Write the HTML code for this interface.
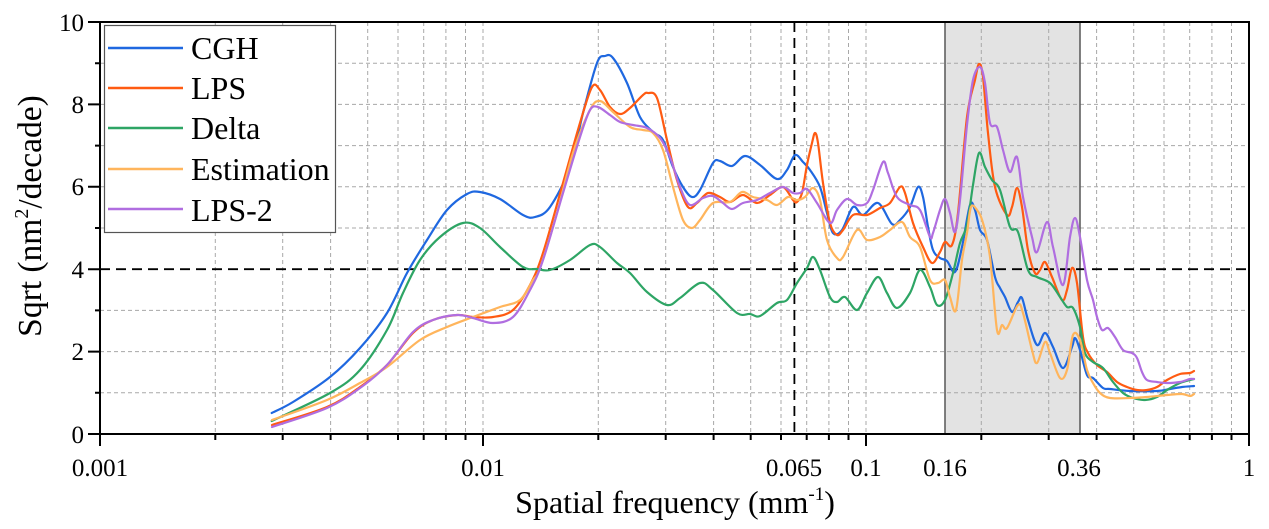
<!DOCTYPE html>
<html>
<head>
<meta charset="utf-8">
<style>
  html,body{margin:0;padding:0;background:#fff;}
  svg{display:block;}
  text{font-family:"Liberation Serif","Times New Roman",serif;fill:#000;}
</style>
</head>
<body>
<svg id="chart" width="1269" height="529" viewBox="0 0 1269 529" xmlns="http://www.w3.org/2000/svg">
  <rect x="0" y="0" width="1269" height="529" fill="#fff"/>
  <!-- shaded band -->
  <rect x="945" y="22" width="135" height="412" fill="#e3e3e3"/>
  <!-- grid -->
  <g stroke="#a8a8a8" stroke-width="1" stroke-dasharray="4,3" fill="none">
    <path d="M215.3 22V434M282.7 22V434M330.6 22V434M367.7 22V434M398 22V434M423.7 22V434M445.9 22V434M465.5 22V434M483 22V434
             M598.3 22V434M665.7 22V434M713.6 22V434M750.7 22V434M781 22V434M806.7 22V434M828.9 22V434M848.5 22V434M866 22V434
             M981.3 22V434M1048.7 22V434M1096.6 22V434M1133.7 22V434M1164 22V434M1189.7 22V434M1211.9 22V434M1231.5 22V434"/>
    <path d="M100 392.8H1249M100 351.6H1249M100 310.4H1249M100 228H1249M100 186.8H1249M100 145.6H1249M100 104.4H1249M100 63.2H1249"/>
  </g>
  <!-- band edges -->
  <path d="M945 22V434M1080 22V434" stroke="#606060" stroke-width="1.6" fill="none"/>
  <!-- black dashed reference lines -->
  <path d="M100 269.2H1249" stroke="#000" stroke-width="1.8" stroke-dasharray="10,6" fill="none"/>
  <path d="M794.4 22V434" stroke="#000" stroke-width="1.8" stroke-dasharray="10,6" fill="none"/>

  <!-- data -->
  <g fill="none" stroke-width="2.2" stroke-linejoin="round" stroke-linecap="round">
    <polyline class="s" stroke="#1f68e0" points="271.7,413 293,402 330,377 360,348 387,313 407,273 427,240 447,210 467,194 480,192 500,199 523,215 535,217 550,207 570,167 583,113 597,63 605,56 613,58 627,83 640,117 653,132 663,140 673,167 683,187 692,197 700,190 713,163 720,161 732,166 745,156 760,165 777,179 787,170 795,155 803,162 810,170 820,187 827,213 833,233 842,230 853,207 863,215 878,203 892,224 900,220 910,207 918,187 923,197 928,227 933,250 940,258 947,261 955,272 962,247 970,205 975,210 980,230 987,240 995,277 1000,288 1005,297 1012,312 1018,302 1022,298 1028,320 1037,345 1045,333 1053,347 1063,368 1072,347 1075,338 1080,350 1087,375 1093,378 1103,388 1110,389 1130,391 1157,391 1170,389 1182,387 1194,386"/>
    <polyline class="s" stroke="#ff5b12" points="272,425 327,407 360,387 387,365 413,333 433,320 457,315 473,317 493,317 513,310 530,285 543,253 563,183 580,123 592,87 600,90 610,107 620,114 630,108 643,95 648,93 657,98 667,140 677,180 688,207 697,203 708,193 720,197 730,202 743,195 757,203 770,195 783,187 793,200 797,202 802,193 807,165 812,143 815,133 818,143 823,183 830,223 837,235 843,230 853,215 867,215 880,208 890,203 900,187 905,193 913,223 923,247 932,263 940,252 945,242 952,245 958,213 967,117 975,80 979,64 983,77 988,133 995,187 1007,215 1012,207 1017,188 1022,207 1028,250 1035,273 1040,270 1045,262 1052,277 1062,300 1067,290 1072,268 1077,283 1083,337 1088,353 1097,365 1107,372 1117,382 1127,387 1137,390 1147,390 1157,387 1167,380 1180,374 1190,373 1194,371"/>
    <polyline class="s" stroke="#2ea565" points="271.7,421 330,393 360,370 387,330 403,293 420,260 440,237 463,223 480,228 500,247 523,267 537,269 550,270 570,260 590,245 600,247 617,263 630,273 647,292 667,305 680,298 700,283 713,290 737,313 750,314 760,316 777,303 787,300 797,283 807,268 813,257 820,270 830,297 837,302 845,297 857,310 867,293 878,277 887,293 897,308 910,293 920,270 930,287 937,305 945,300 953,273 960,243 967,225 973,185 979,153 985,167 992,180 1000,190 1010,227 1018,232 1028,270 1037,277 1050,283 1060,297 1067,307 1073,308 1080,327 1085,353 1093,362 1103,368 1113,382 1123,393 1133,398 1145,400 1157,397 1167,390 1180,383 1190,380 1194,379"/>
    <polyline class="s" stroke="#ffb55c" points="272,420 327,400 360,383 387,367 420,340 447,327 473,317 500,307 520,300 533,280 540,268 557,213 573,153 590,110 600,101 613,112 630,127 643,130 653,133 663,150 673,187 683,220 692,228 700,220 713,203 730,202 742,192 753,197 767,200 777,205 788,197 797,200 805,197 813,188 820,200 827,240 837,258 843,257 857,230 867,240 880,237 890,230 902,222 910,237 920,247 930,280 938,283 945,280 950,297 956,310 962,260 967,233 971,207 977,210 983,223 990,257 997,330 1002,325 1007,328 1018,305 1023,313 1032,350 1037,363 1045,342 1050,353 1060,378 1067,370 1073,335 1080,340 1087,370 1093,383 1100,393 1110,398 1130,398 1147,397 1167,395 1182,394 1190,396 1194,394"/>
    <polyline class="s" stroke="#b06ee0" points="272,427 327,408 360,388 387,365 413,332 433,320 457,315 473,318 493,323 513,317 530,290 543,260 563,193 580,137 590,110 598,107 610,115 620,122 633,125 647,128 660,138 670,157 680,187 690,205 703,198 713,196 723,203 732,209 743,203 757,200 770,193 783,187 793,193 800,193 807,189 817,203 830,223 837,210 847,199 857,205 867,203 873,190 883,162 888,173 897,197 910,205 920,210 930,237 933,233 940,210 945,199 950,213 955,232 960,200 967,125 973,80 980,67 985,83 990,123 997,127 1003,150 1010,172 1017,157 1023,197 1032,237 1037,252 1047,222 1053,247 1063,285 1070,237 1075,218 1080,237 1087,280 1093,300 1097,317 1102,330 1108,328 1115,337 1123,350 1132,353 1137,358 1142,372 1147,380 1157,382 1167,383 1180,382 1190,379 1194,379"/>
  </g>

  <!-- axes frame -->
  <rect x="100" y="22" width="1149" height="412" fill="none" stroke="#000" stroke-width="2"/>
  <!-- ticks -->
  <g stroke="#000" stroke-width="2">
    <path d="M88 434H100M88 351.6H100M88 269.2H100M88 186.8H100M88 104.4H100M88 22H100"/>
    <path d="M95 392.8H100M95 310.4H100M95 228H100M95 145.6H100M95 63.2H100"/>
    <path d="M100 434V446M483 434V446M866 434V446M1249 434V446"/>
    <path d="M215.3 434V440M282.7 434V440M330.6 434V440M367.7 434V440M398 434V440M423.7 434V440M445.9 434V440M465.5 434V440
             M598.3 434V440M665.7 434V440M713.6 434V440M750.7 434V440M781 434V440M806.7 434V440M828.9 434V440M848.5 434V440
             M981.3 434V440M1048.7 434V440M1096.6 434V440M1133.7 434V440M1164 434V440M1189.7 434V440M1211.9 434V440M1231.5 434V440"/>
  </g>

  <!-- y tick labels -->
  <g font-size="25" text-anchor="end">
    <text x="84" y="443">0</text>
    <text x="84" y="360">2</text>
    <text x="84" y="278">4</text>
    <text x="84" y="195">6</text>
    <text x="84" y="113">8</text>
    <text x="84" y="31">10</text>
  </g>
  <!-- x tick labels -->
  <g font-size="25" text-anchor="middle">
    <text x="100" y="476">0.001</text>
    <text x="483" y="476">0.01</text>
    <text x="794" y="476">0.065</text>
    <text x="866" y="476">0.1</text>
    <text x="945" y="476">0.16</text>
    <text x="1079" y="476">0.36</text>
    <text x="1249" y="476">1</text>
  </g>

  <!-- axis titles -->
  <text x="675" y="513" font-size="32" text-anchor="middle">Spatial frequency (mm<tspan font-size="19" dy="-13">-1</tspan><tspan dy="13">)</tspan></text>
  <text transform="translate(41,216) rotate(-90)" font-size="33.5" text-anchor="middle">Sqrt (nm<tspan font-size="20" dy="-13">2</tspan><tspan dy="13">/decade)</tspan></text>

  <!-- legend -->
  <rect x="104.5" y="25.5" width="231" height="207" fill="#fff" stroke="#555" stroke-width="1.2"/>
  <g stroke-width="2.5">
    <path d="M108 48H183" stroke="#1f68e0"/>
    <path d="M108 88H183" stroke="#ff5b12"/>
    <path d="M108 128H183" stroke="#2ea565"/>
    <path d="M108 169H183" stroke="#ffb55c"/>
    <path d="M108 209H183" stroke="#b06ee0"/>
  </g>
  <g font-size="32">
    <text x="191" y="59">CGH</text>
    <text x="191" y="99">LPS</text>
    <text x="191" y="139">Delta</text>
    <text x="191" y="180">Estimation</text>
    <text x="191" y="221">LPS-2</text>
  </g>
</svg>
<script>
(function(){
  try{
    var NS="http://www.w3.org/2000/svg";
    var pls=document.querySelectorAll("polyline.s");
    for(var k=0;k<pls.length;k++){
      var pl=pls[k];
      var raw=pl.getAttribute("points").trim().split(/\s+/);
      var p=[];
      for(var i=0;i<raw.length;i++){var a=raw[i].split(",");p.push([+a[0],+a[1]]);}
      var d="M"+p[0][0]+" "+p[0][1];
      for(var i=0;i<p.length-1;i++){
        var p0=p[i-1]||p[i],p1=p[i],p2=p[i+1],p3=p[i+2]||p2;
        var c1x=p1[0]+(p2[0]-p0[0])/6,c1y=p1[1]+(p2[1]-p0[1])/6;
        var c2x=p2[0]-(p3[0]-p1[0])/6,c2y=p2[1]-(p3[1]-p1[1])/6;
        d+="C"+c1x.toFixed(2)+" "+c1y.toFixed(2)+" "+c2x.toFixed(2)+" "+c2y.toFixed(2)+" "+p2[0]+" "+p2[1];
      }
      var path=document.createElementNS(NS,"path");
      path.setAttribute("d",d);
      path.setAttribute("stroke",pl.getAttribute("stroke"));
      pl.parentNode.replaceChild(path,pl);
    }
  }catch(e){}
})();
</script>
</body>
</html>
